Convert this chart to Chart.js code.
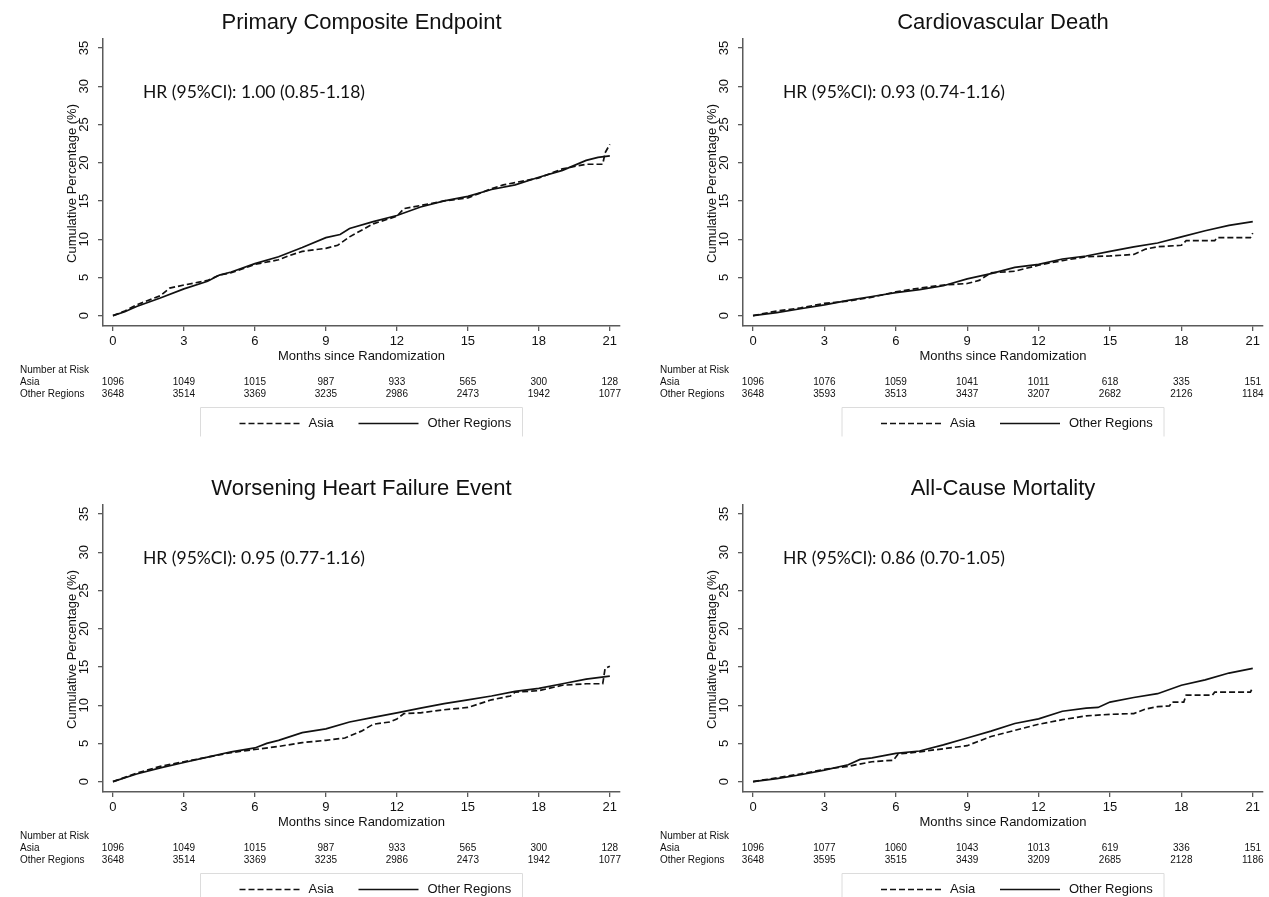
<!DOCTYPE html>
<html>
<head>
<meta charset="utf-8">
<title>Cumulative event curves by region</title>
<script src="https://cdn.jsdelivr.net/npm/chart.js@4.4.1/dist/chart.umd.min.js"></script>
<style>
  html, body { margin: 0; padding: 0; background: #fff; }
  body { width: 1269px; height: 897px; overflow: hidden; position: relative; }
  canvas { position: absolute; display: block; }
</style>
</head>
<body>
<canvas id="c-primary" width="634" height="465" style="left:0;top:0"></canvas>
<canvas id="c-cvdeath" width="629" height="465" style="left:640px;top:0"></canvas>
<canvas id="c-whf" width="634" height="431" style="left:0;top:466px"></canvas>
<canvas id="c-acm" width="629" height="431" style="left:640px;top:466px"></canvas>

<script>
/* Cumulative percentage curves, Asia vs other regions, with number-at-risk rows */

const MONTH_TICKS = [0, 3, 6, 9, 12, 15, 18, 21];
const PCT_TICKS = [0, 5, 10, 15, 20, 25, 30, 35];
const GROUPS = ["Asia", "Other Regions"];

// [month, cumulative %]
const PRIMARY_ASIA = [
  [0, 0], [0.5, 0.6], [1, 1.4], [2, 2.6], [2.4, 3.6], [3, 4.0], [4, 4.6], [4.5, 5.3],
  [5, 5.6], [6, 6.7], [7, 7.3], [7.5, 7.9], [8, 8.4], [9, 8.8], [9.5, 9.2], [10, 10.3],
  [11, 12.0], [12, 13.0], [12.3, 14.0], [13, 14.4], [14, 15.0], [15, 15.4], [16, 16.6],
  [16.5, 17.1], [17, 17.4], [18, 18.0], [19, 19.2], [20, 19.8], [20.7, 19.8], [20.8, 21.3], [21, 22.4],
];
const PRIMARY_OTHER = [
  [0, 0], [0.5, 0.5], [1, 1.2], [2, 2.3], [3, 3.5], [4, 4.5], [4.5, 5.3], [5, 5.7],
  [6, 6.8], [7, 7.7], [8, 8.9], [9, 10.2], [9.6, 10.6], [10, 11.4], [11, 12.3], [12, 13.1],
  [13, 14.2], [14, 15.0], [15, 15.6], [16, 16.5], [17, 17.1], [18, 18.1], [19, 19.0],
  [20, 20.3], [20.5, 20.7], [21, 20.9],
];

const CVDEATH_ASIA = [
  [0, 0], [1, 0.6], [2, 1.0], [3, 1.6], [4, 1.9], [5, 2.4], [6, 3.1], [7, 3.6], [8, 4.0],
  [9, 4.2], [9.5, 4.6], [10, 5.6], [11, 5.8], [12, 6.6], [13, 7.2], [14, 7.7], [15, 7.8],
  [16, 8.0], [16.5, 8.7], [17, 9.0], [18, 9.2], [18.2, 9.8], [19.4, 9.8], [19.5, 10.2],
  [20.9, 10.2], [21, 10.8],
];
const CVDEATH_OTHER = [
  [0, 0], [1, 0.4], [2, 0.9], [3, 1.4], [4, 2.0], [5, 2.5], [6, 3.0], [7, 3.4], [8, 3.9],
  [9, 4.8], [10, 5.5], [11, 6.3], [12, 6.7], [13, 7.4], [14, 7.8], [15, 8.4], [16, 9.0],
  [17, 9.5], [18, 10.3], [19, 11.1], [20, 11.8], [21, 12.3],
];

const WHF_ASIA = [
  [0, 0], [1, 1.1], [2, 2.0], [3, 2.6], [4, 3.2], [5, 3.8], [6, 4.2], [7, 4.6], [8, 5.1],
  [9, 5.4], [9.8, 5.7], [10.5, 6.6], [11, 7.5], [11.7, 7.8], [12, 8.2], [12.3, 8.9], [13, 9.0],
  [14, 9.4], [15, 9.7], [15.5, 10.2], [16, 10.7], [16.8, 11.2], [17, 11.7], [18, 11.9],
  [19, 12.6], [20, 12.8], [20.7, 12.8], [20.8, 14.8], [21, 15.1],
];
const WHF_OTHER = [
  [0, 0], [1, 1.0], [2, 1.8], [3, 2.5], [4, 3.2], [5, 3.9], [6, 4.4], [6.5, 5.0], [7, 5.4],
  [8, 6.4], [9, 6.9], [10, 7.8], [11, 8.4], [12, 9.0], [13, 9.6], [14, 10.2], [15, 10.7],
  [16, 11.2], [17, 11.8], [18, 12.2], [19, 12.8], [20, 13.4], [21, 13.8],
];

const ACM_ASIA = [
  [0, 0], [1, 0.5], [2, 1.0], [3, 1.6], [4, 2.0], [5, 2.6], [5.9, 2.8], [6.1, 3.6], [7, 3.9],
  [8, 4.3], [9, 4.7], [10, 5.9], [11, 6.7], [12, 7.5], [13, 8.1], [14, 8.6], [15, 8.8],
  [16, 8.9], [16.5, 9.5], [17, 9.8], [17.5, 9.9], [17.6, 10.4], [18.1, 10.4], [18.2, 11.3],
  [19.3, 11.3], [19.4, 11.7], [20.9, 11.7], [21, 12.3],
];
const ACM_OTHER = [
  [0, 0], [1, 0.4], [2, 0.9], [3, 1.5], [4, 2.2], [4.5, 2.9], [5, 3.1], [6, 3.7], [7, 4.0],
  [8, 4.8], [9, 5.7], [10, 6.6], [11, 7.6], [12, 8.2], [13, 9.2], [14, 9.6], [14.5, 9.7],
  [15, 10.4], [16, 11.0], [17, 11.5], [18, 12.6], [19, 13.3], [20, 14.2], [21, 14.8],
];

// number at risk at each month tick
const RISK_PRIMARY_ASIA = [1096, 1049, 1015, 987, 933, 565, 300, 128];
const RISK_PRIMARY_OTHER = [3648, 3514, 3369, 3235, 2986, 2473, 1942, 1077];
const RISK_CVDEATH_ASIA = [1096, 1076, 1059, 1041, 1011, 618, 335, 151];
const RISK_CVDEATH_OTHER = [3648, 3593, 3513, 3437, 3207, 2682, 2126, 1184];
const RISK_WHF_ASIA = [1096, 1049, 1015, 987, 933, 565, 300, 128];
const RISK_WHF_OTHER = [3648, 3514, 3369, 3235, 2986, 2473, 1942, 1077];
const RISK_ACM_ASIA = [1096, 1077, 1060, 1043, 1013, 619, 336, 151];
const RISK_ACM_OTHER = [3648, 3595, 3515, 3439, 3209, 2685, 2128, 1186];

const SANS = '"Liberation Sans", Arial, Helvetica, sans-serif';
const HR_FONT = 'Lato, "Open Sans", sans-serif';
const INK = "#111111";
const AXIS = "#5a5a5a";

const kmDecor = {
  id: "kmDecor",
  afterDraw(chart, args, opts) {
    const { ctx, chartArea: area, scales } = chart;
    const x = scales.x;
    const y = scales.y;
    const mid = (area.left + area.right) / 2;

    ctx.save();
    ctx.fillStyle = INK;
    ctx.textBaseline = "middle";

    // panel title
    ctx.textAlign = "center";
    ctx.font = `22px ${SANS}`;
    ctx.fillText(opts.title, mid, 23);

    // hazard ratio annotation
    ctx.textAlign = "left";
    ctx.font = `17.5px ${HR_FONT}`;
    ctx.fillText(opts.hr, 143, 92.5);

    // rotated y tick labels
    ctx.textAlign = "center";
    ctx.font = `13px ${SANS}`;
    PCT_TICKS.forEach((v) => {
      ctx.save();
      ctx.translate(84, y.getPixelForValue(v));
      ctx.rotate(-Math.PI / 2);
      ctx.fillText(String(v), 0, 0);
      ctx.restore();
    });

    // axis titles
    ctx.save();
    ctx.translate(72, (area.top + area.bottom) / 2 + 1);
    ctx.rotate(-Math.PI / 2);
    ctx.fillText("Cumulative Percentage (%)", 0, 0);
    ctx.restore();
    ctx.fillText("Months since Randomization", mid, 356);

    // number at risk
    ctx.font = `10px ${SANS}`;
    ctx.textAlign = "left";
    ctx.fillText("Number at Risk", 20, 370);
    ctx.fillText(GROUPS[0], 20, 382);
    ctx.fillText(GROUPS[1], 20, 394);
    ctx.textAlign = "center";
    MONTH_TICKS.forEach((m, i) => {
      const px = x.getPixelForValue(m);
      ctx.fillText(String(opts.riskAsia[i]), px, 382);
      ctx.fillText(String(opts.riskOther[i]), px, 394);
    });

    // legend box (open at the bottom, as in the source)
    const boxL = mid - 161;
    const boxR = mid + 161;
    const boxT = 407.5;
    ctx.strokeStyle = "#dcdcdc";
    ctx.lineWidth = 1;
    ctx.beginPath();
    ctx.moveTo(boxL, boxT + 29);
    ctx.lineTo(boxL, boxT);
    ctx.lineTo(boxR, boxT);
    ctx.lineTo(boxR, boxT + 29);
    ctx.stroke();

    const ly = boxT + 16;
    ctx.strokeStyle = INK;
    ctx.lineWidth = 1.6;
    ctx.setLineDash([6, 3]);
    ctx.beginPath();
    ctx.moveTo(boxL + 39, ly);
    ctx.lineTo(boxL + 100, ly);
    ctx.stroke();
    ctx.setLineDash([]);
    ctx.beginPath();
    ctx.moveTo(boxL + 158, ly);
    ctx.lineTo(boxL + 218, ly);
    ctx.stroke();

    ctx.font = `13px ${SANS}`;
    ctx.textAlign = "left";
    ctx.fillText(GROUPS[0], boxL + 108, ly);
    ctx.fillText(GROUPS[1], boxL + 227, ly);
    ctx.restore();
  },
};

function curve(label, points, dashed) {
  return {
    label,
    data: points.map(([m, v]) => ({ x: m, y: v })),
    borderColor: INK,
    borderWidth: 1.7,
    borderDash: dashed ? [6, 3] : [],
    pointRadius: 0,
    tension: 0,
    fill: false,
  };
}

function makeChart(id, panel) {
  const canvas = document.getElementById(id);
  const axisGrid = { drawOnChartArea: false, drawTicks: true, tickLength: 5, color: AXIS, lineWidth: 1.3 };
  const axisBorder = { display: true, color: AXIS, width: 1.5 };

  new Chart(canvas, {
    type: "line",
    data: {
      datasets: [
        curve(GROUPS[1], panel.other, false),
        curve(GROUPS[0], panel.asia, true),
      ],
    },
    options: {
      responsive: false,
      animation: false,
      events: [],
      layout: { padding: { top: 39, left: 0, bottom: 0, right: canvas.width - panel.plotRight } },
      scales: {
        x: {
          type: "linear",
          min: -0.42,
          max: 21.43,
          afterBuildTicks: (s) => { s.ticks = MONTH_TICKS.map((v) => ({ value: v })); },
          afterFit: (s) => { s.height = canvas.height - 326; },
          ticks: { color: INK, font: { family: SANS, size: 13 }, padding: 3, autoSkip: false, maxRotation: 0 },
          grid: axisGrid,
          border: axisBorder,
        },
        y: {
          min: -1.36,
          max: 36.18,
          afterBuildTicks: (s) => { s.ticks = PCT_TICKS.map((v) => ({ value: v })); },
          afterFit: (s) => { s.width = 103; },
          ticks: { display: false },
          grid: axisGrid,
          border: axisBorder,
        },
      },
      plugins: {
        legend: { display: false },
        tooltip: { enabled: false },
        title: { display: false },
        kmDecor: {
          title: panel.title,
          hr: panel.hr,
          riskAsia: panel.riskAsia,
          riskOther: panel.riskOther,
        },
      },
    },
    plugins: [kmDecor],
  });
}

function init() {
  if (typeof Chart === "undefined") {
    console.warn("Chart.js not loaded");
    return;
  }
  makeChart("c-primary", {
    title: "Primary Composite Endpoint",
    hr: "HR (95%CI): 1.00 (0.85-1.18)",
    asia: PRIMARY_ASIA, other: PRIMARY_OTHER,
    riskAsia: RISK_PRIMARY_ASIA, riskOther: RISK_PRIMARY_OTHER,
    plotRight: 620,
  });
  makeChart("c-cvdeath", {
    title: "Cardiovascular Death",
    hr: "HR (95%CI): 0.93 (0.74-1.16)",
    asia: CVDEATH_ASIA, other: CVDEATH_OTHER,
    riskAsia: RISK_CVDEATH_ASIA, riskOther: RISK_CVDEATH_OTHER,
    plotRight: 623,
  });
  makeChart("c-whf", {
    title: "Worsening Heart Failure Event",
    hr: "HR (95%CI): 0.95 (0.77-1.16)",
    asia: WHF_ASIA, other: WHF_OTHER,
    riskAsia: RISK_WHF_ASIA, riskOther: RISK_WHF_OTHER,
    plotRight: 620,
  });
  makeChart("c-acm", {
    title: "All-Cause Mortality",
    hr: "HR (95%CI): 0.86 (0.70-1.05)",
    asia: ACM_ASIA, other: ACM_OTHER,
    riskAsia: RISK_ACM_ASIA, riskOther: RISK_ACM_OTHER,
    plotRight: 623,
  });
}

if (document.readyState === "loading") {
  document.addEventListener("DOMContentLoaded", init);
} else {
  init();
}
</script>
</body>
</html>
